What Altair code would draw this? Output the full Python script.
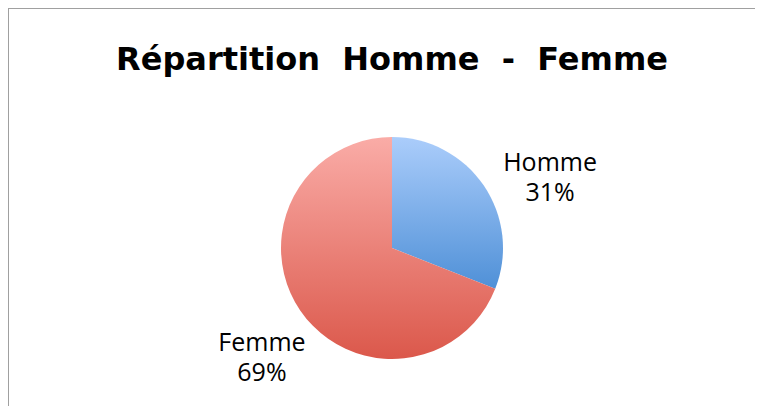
import altair as alt
import pandas as pd

genres = ["Homme", "Femme"]
pcts = [31, 69]

title_text = "Répartition\u00a0\u00a0Homme\u00a0\u00a0-\u00a0\u00a0Femme"

df = pd.DataFrame({"genre": genres, "pct": pcts, "order": [0, 1]})

W, H = 747, 398
CX, CY, R = 384, 240, 111

blue = alt.LinearGradient(
    gradient="linear", x1=0, y1=0, x2=0, y2=1,
    stops=[alt.GradientStop(color="#abcdfb", offset=0),
           alt.GradientStop(color="#4f90d7", offset=1)])
red = alt.LinearGradient(
    gradient="linear", x1=0, y1=0, x2=0, y2=1,
    stops=[alt.GradientStop(color="#faaca7", offset=0),
           alt.GradientStop(color="#db584b", offset=1)])

base = alt.Chart(df).transform_window(
    cum="sum(pct)", sort=[alt.SortField("order")]
).transform_calculate(
    start="datum.cum - datum.pct",
    mid="datum.cum - datum.pct / 2",
    label="datum.genre + '\\n' + datum.pct + '%'",
)

theta_scale = alt.Scale(domain=[0, 100], range=[0, 6.283185307179586])

def arc_layer(name, grad):
    return base.transform_filter(alt.datum.genre == name).transform_calculate(
        end="datum.cum"
    ).mark_arc(color=grad, outerRadius=R).encode(
        theta=alt.Theta("start:Q", scale=theta_scale),
        theta2="end:Q",
        x=alt.value(CX), y=alt.value(CY),
    )

def text_layer(name, dx, dy):
    return base.transform_filter(alt.datum.genre == name).mark_text(
        font="Open Sans", fontSize=25, lineBreak="\n", lineHeight=30,
        color="#000000", align="center", baseline="middle", dx=dx, dy=dy,
    ).encode(
        theta=alt.Theta("mid:Q", scale=theta_scale),
        radius=alt.value(150),
        x=alt.value(CX), y=alt.value(CY),
        text="label:N",
    )

title = alt.Chart(pd.DataFrame({"t": [title_text]})).mark_text(
    font="DejaVu Sans", fontSize=32, fontWeight="bold", color="#000000",
    align="center", baseline="middle",
).encode(x=alt.value(CX), y=alt.value(52), text="t:N")

frame_top = alt.Chart(df).mark_rule(color="#a0a0a0", strokeWidth=2).encode(
    x=alt.value(0), x2=alt.value(W), y=alt.value(0))
frame_left = alt.Chart(df).mark_rule(color="#a0a0a0", strokeWidth=2).encode(
    x=alt.value(0), y=alt.value(0), y2=alt.value(H + 10))

chart = alt.layer(
    frame_top, frame_left,
    arc_layer("Homme", blue), arc_layer("Femme", red),
    text_layer("Homme", 34, -1), text_layer("Femme", -6, 11),
    title,
).properties(
    width=W, height=H,
    autosize=alt.AutoSizeParams(type="none"),
    padding=0,
).configure_view(stroke=None)

chart.save("out.html", embed_options={"renderer": "svg", "actions": False})
